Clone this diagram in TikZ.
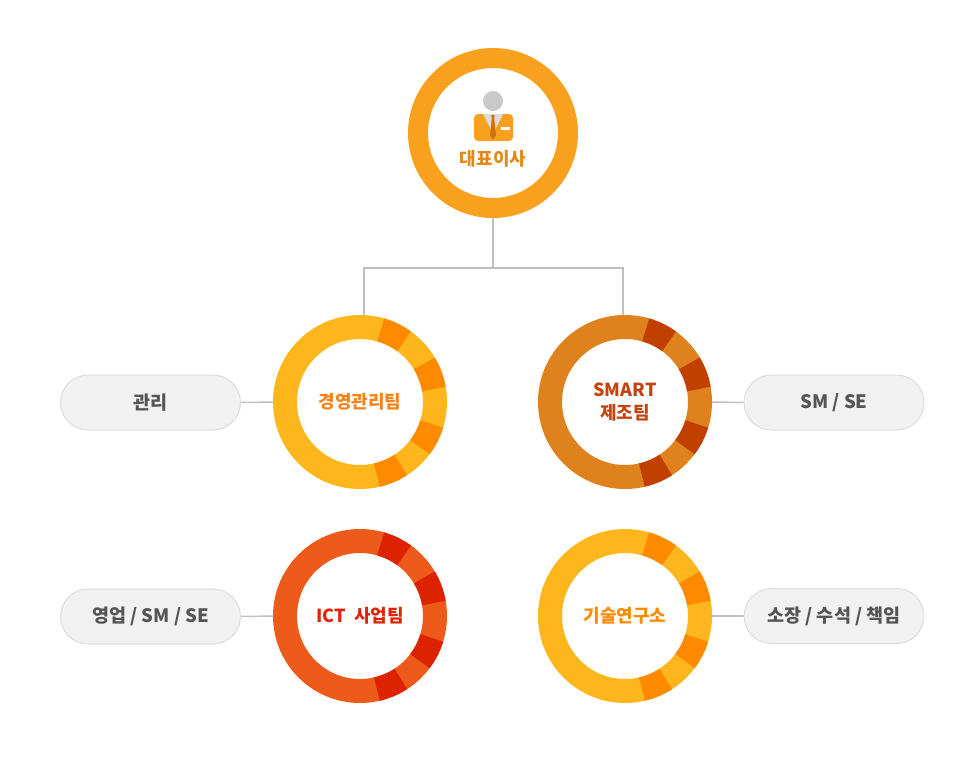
\documentclass[tikz,border=0pt]{standalone}
\usepackage{fontspec}
\setmainfont{Noto Sans CJK KR}
\usepackage{tikz}

\definecolor{ceoring}{HTML}{F9A11F}
\definecolor{ceotext}{HTML}{E2891A}
\definecolor{headgray}{HTML}{C9C9C9}
\definecolor{collargray}{HTML}{DCDCDC}
\definecolor{tiecolor}{HTML}{D2700E}
\definecolor{mgmtlight}{HTML}{FDB71C}
\definecolor{mgmtdark}{HTML}{FF8A00}
\definecolor{mgmttext}{HTML}{F5831B}
\definecolor{labtext}{HTML}{FF8A00}
\definecolor{smartlight}{HTML}{DF821E}
\definecolor{smartdark}{HTML}{C14000}
\definecolor{smarttext}{HTML}{C4440F}
\definecolor{ictlight}{HTML}{EE5A19}
\definecolor{ictdark}{HTML}{DD2200}
\definecolor{icttext}{HTML}{DD2508}
\definecolor{pillfill}{HTML}{F2F1F2}
\definecolor{pillline}{HTML}{DCDCDC}
\definecolor{pilltext}{HTML}{555555}
\definecolor{linkgray}{HTML}{C0C0C0}

\begin{document}
\begin{tikzpicture}[x=1pt,y=1pt]
\tikzstyle{every node}+=[inner sep=0pt, font=\fontsize{18}{23.5}\selectfont\bfseries]
\tikzstyle{ring}=[circle, line width=24, minimum size=150]
\tikzstyle{seg}=[line width=24]
\tikzstyle{pill}=[draw=pillline, fill=pillfill, line width=1, rounded corners=27.5, minimum width=180, minimum height=55, text=pilltext, font=\fontsize{18.5}{23}\selectfont\bfseries]
\tikzstyle{link}=[draw=linkgray, line width=1.5]
\useasboundingbox (0,0) rectangle (958,-761);
% top
\node [circle, draw=ceoring, line width=20, minimum size=150] (ceo) at (493,-133) {};
\fill [headgray] (493,-101) circle (10);
\fill [ceoring, rounded corners=4] (474,-141) rectangle (513,-114);
\fill [collargray] (483,-114) -- (503,-114) -- (493,-134) -- cycle;
\fill [tiecolor] (491.3,-115) -- (494.7,-115) -- (494.2,-118.5) -- (496,-135.5) -- (493,-139.5) -- (490,-135.5) -- (491.8,-118.5) -- cycle;
\fill [white] (501,-127) rectangle (509.5,-129.7);
\node [text=ceotext] (ceolabel) at (493,-159) {대표이사};
% teams
\node [ring, draw=mgmtlight, text=mgmttext] (mgmt) at (360,-402) {경영관리팀};
\node [ring, draw=smartlight, text=smarttext, align=center] (smart) at (625,-402) {SMART\\제조팀};
\node [ring, draw=ictlight, text=icttext] (ict) at (360,-616) {ICT\ \ 사업팀};
\node [ring, draw=mgmtlight, text=labtext] (lab) at (625,-616) {기술연구소};
\foreach \a/\b in {54/74, 10/31, -37/-17, -77/-57} {
  \draw [seg, mgmtdark] (mgmt.center) ++(\a:75) arc [start angle=\a, end angle=\b, radius=75];
  \draw [seg, smartdark] (smart.center) ++(\a:75) arc [start angle=\a, end angle=\b, radius=75];
  \draw [seg, ictdark] (ict.center) ++(\a:75) arc [start angle=\a, end angle=\b, radius=75];
  \draw [seg, mgmtdark] (lab.center) ++(\a:75) arc [start angle=\a, end angle=\b, radius=75];
}
\draw [link] (ceo.south) -- ++(0,-50) -| ([xshift=4]mgmt.north);
\draw [link] (ceo.south) -- ++(0,-50) -| ([xshift=-2]smart.north);
% roles
\node [pill] (mgmtrole) at (150.5,-402.5) {관리};
\node [pill] (smartrole) at (834,-402.5) {SM / SE};
\node [pill] (ictrole) at (150.5,-616.5) {영업 / SM / SE};
\node [pill] (labrole) at (834,-616) {소장 / 수석 / 책임};
\draw [link] (mgmtrole) -- (mgmt);
\draw [link] (smartrole) -- (smart);
\draw [link] (ictrole) -- (ict);
\draw [link] (labrole) -- (lab);
\end{tikzpicture}
\end{document}
